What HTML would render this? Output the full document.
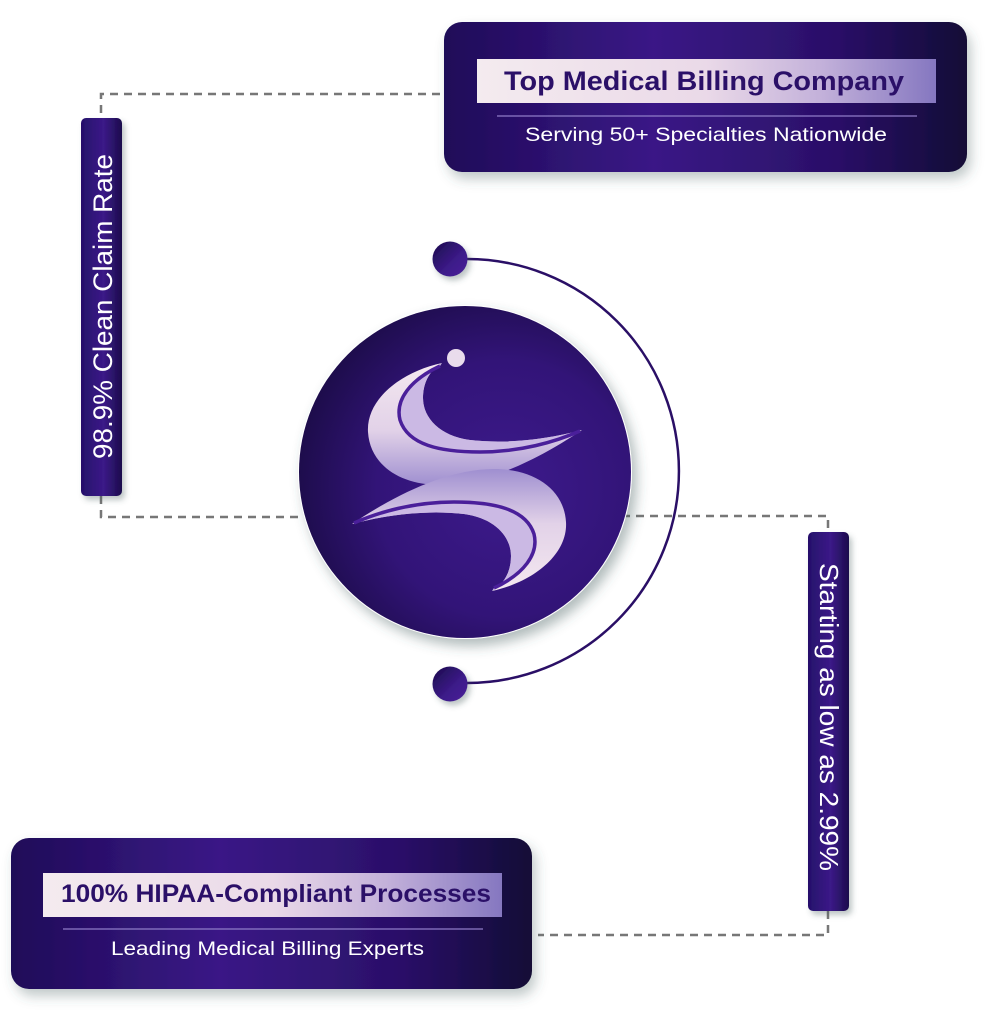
<!DOCTYPE html>
<html>
<head>
<meta charset="utf-8">
<style>
  html,body{margin:0;padding:0;background:#ffffff;}
  body{width:1001px;height:1024px;overflow:hidden;}
  svg{display:block;}
  text{font-family:"Liberation Sans", Arial, sans-serif;}
</style>
</head>
<body>
<svg width="1001" height="1024" viewBox="0 0 1001 1024" xmlns="http://www.w3.org/2000/svg">
  <defs>
    <filter id="sh" x="-20%" y="-20%" width="140%" height="150%">
      <feDropShadow dx="4" dy="7" stdDeviation="6" flood-color="#3f5a5a" flood-opacity="0.32"/>
    </filter>
    <filter id="shc" x="-20%" y="-20%" width="140%" height="140%">
      <feDropShadow dx="5" dy="7" stdDeviation="6" flood-color="#3f5a5a" flood-opacity="0.4"/>
    </filter>
    <filter id="shs" x="-40%" y="-40%" width="180%" height="180%">
      <feDropShadow dx="3" dy="4" stdDeviation="3" flood-color="#3f5a5a" flood-opacity="0.35"/>
    </filter>
    <linearGradient id="card" x1="0" y1="0" x2="1" y2="0">
      <stop offset="0" stop-color="#1f0c58"/>
      <stop offset="0.4" stop-color="#3a1786"/>
      <stop offset="0.75" stop-color="#2a1068"/>
      <stop offset="1" stop-color="#120a36"/>
    </linearGradient>
    <linearGradient id="lbl" x1="0" y1="0" x2="1" y2="0">
      <stop offset="0" stop-color="#f4ebef"/>
      <stop offset="0.5" stop-color="#ead9e8"/>
      <stop offset="0.75" stop-color="#c3b1da"/>
      <stop offset="1" stop-color="#8577c0"/>
    </linearGradient>
    <linearGradient id="pill" x1="0" y1="0" x2="1" y2="0">
      <stop offset="0" stop-color="#25106a"/>
      <stop offset="0.55" stop-color="#3b1a88"/>
      <stop offset="1" stop-color="#1c0c4c"/>
    </linearGradient>
    <radialGradient id="circ" cx="0.62" cy="0.55" r="0.7">
      <stop offset="0" stop-color="#3d1a8c"/>
      <stop offset="0.55" stop-color="#321478"/>
      <stop offset="1" stop-color="#170a3e"/>
    </radialGradient>
    <linearGradient id="dot" x1="0" y1="0" x2="1" y2="1">
      <stop offset="0" stop-color="#1a0b4a"/>
      <stop offset="0.6" stop-color="#3d1b8a"/>
      <stop offset="1" stop-color="#4b2399"/>
    </linearGradient>
    <linearGradient id="cres" x1="0" y1="0" x2="0" y2="1">
      <stop offset="0" stop-color="#f4e8f0"/>
      <stop offset="0.55" stop-color="#e2d2e8"/>
      <stop offset="1" stop-color="#9f8fd0"/>
    </linearGradient>
  </defs>

  <!-- dashed connectors -->
  <g fill="none" stroke="#777777" stroke-width="2.5" stroke-dasharray="8 6">
    <path d="M 440 94 H 101 V 118"/>
    <path d="M 101 496 V 517 H 300"/>
    <path d="M 622 516 H 828 V 532"/>
    <path d="M 828 911 V 935 H 538"/>
  </g>

  <!-- arc -->
  <path d="M 467 259 A 212 212 0 0 1 467 683" fill="none" stroke="#2a0f66" stroke-width="2.5"/>

  <!-- small circles -->
  <circle cx="450" cy="259" r="17.5" fill="url(#dot)" filter="url(#shs)"/>
  <circle cx="450" cy="684" r="17.5" fill="url(#dot)" filter="url(#shs)"/>

  <!-- main circle -->
  <circle cx="465" cy="472" r="167" fill="#ffffff" filter="url(#shc)"/>
  <circle cx="465" cy="472" r="166" fill="url(#circ)"/>

  <!-- logo -->
  <g id="crescent">
    <path d="M 442 363 C 400 372, 366 400, 368 432 C 370 465, 400 485, 440 485 C 490 485, 545 455, 582 430 C 545 440, 505 444, 470 440 C 440 436, 423 418, 423 398 C 423 382, 430 370, 442 363 Z" fill="url(#cres)"/>
    <path d="M 440 366 C 410 380, 395 400, 400 420 C 408 445, 440 452, 480 452 C 520 452, 555 442, 582 430 C 545 440, 505 444, 470 440 C 440 436, 423 418, 423 398 C 423 382, 430 370, 442 363 Z" fill="#cbb9e4"/>
    <path d="M 440 366 C 410 380, 395 400, 400 420 C 408 445, 440 452, 480 452 C 520 452, 555 442, 580 431" fill="none" stroke="#4a1f9a" stroke-width="3.5"/>
  </g>
  <g transform="rotate(180 467 477)">
    <path d="M 442 363 C 400 372, 366 400, 368 432 C 370 465, 400 485, 440 485 C 490 485, 545 455, 582 430 C 545 440, 505 444, 470 440 C 440 436, 423 418, 423 398 C 423 382, 430 370, 442 363 Z" fill="url(#cres)"/>
    <path d="M 440 366 C 410 380, 395 400, 400 420 C 408 445, 440 452, 480 452 C 520 452, 555 442, 582 430 C 545 440, 505 444, 470 440 C 440 436, 423 418, 423 398 C 423 382, 430 370, 442 363 Z" fill="#cbb9e4"/>
    <path d="M 440 366 C 410 380, 395 400, 400 420 C 408 445, 440 452, 480 452 C 520 452, 555 442, 580 431" fill="none" stroke="#4a1f9a" stroke-width="3.5"/>
  </g>
  <circle cx="456" cy="358" r="9" fill="#e9dcec"/>

  <!-- top card -->
  <rect x="444" y="22" width="523" height="150" rx="18" fill="url(#card)" filter="url(#sh)"/>
  <rect x="477" y="59" width="459" height="44" fill="url(#lbl)"/>
  <text x="504" y="90" font-size="27" font-weight="bold" fill="#2b1068" textLength="400" lengthAdjust="spacingAndGlyphs">Top Medical Billing Company</text>
  <line x1="497" y1="116" x2="917" y2="116" stroke="#8f7cc8" stroke-width="1.2"/>
  <text x="525" y="141" font-size="19" fill="#ffffff" textLength="362" lengthAdjust="spacingAndGlyphs">Serving 50+ Specialties Nationwide</text>

  <!-- bottom card -->
  <rect x="11" y="838" width="521" height="151" rx="18" fill="url(#card)" filter="url(#sh)"/>
  <rect x="43" y="873" width="459" height="44" fill="url(#lbl)"/>
  <text x="61" y="902" font-size="25" font-weight="bold" fill="#2b1068" textLength="430" lengthAdjust="spacingAndGlyphs">100% HIPAA-Compliant Processes</text>
  <line x1="63" y1="929" x2="483" y2="929" stroke="#8f7cc8" stroke-width="1.2"/>
  <text x="111" y="955" font-size="19" fill="#ffffff" textLength="313" lengthAdjust="spacingAndGlyphs">Leading Medical Billing Experts</text>

  <!-- left pill -->
  <rect x="81" y="118" width="41" height="378" rx="5" fill="url(#pill)" filter="url(#shs)"/>
  <text transform="translate(112 459) rotate(-90)" font-size="27" fill="#ffffff" textLength="305" lengthAdjust="spacingAndGlyphs">98.9% Clean Claim Rate</text>

  <!-- right pill -->
  <rect x="808" y="532" width="41" height="379" rx="5" fill="url(#pill)" filter="url(#shs)"/>
  <text transform="translate(820 563) rotate(90)" font-size="26" fill="#ffffff" textLength="308" lengthAdjust="spacingAndGlyphs">Starting as low as 2.99%</text>
</svg>
</body>
</html>
